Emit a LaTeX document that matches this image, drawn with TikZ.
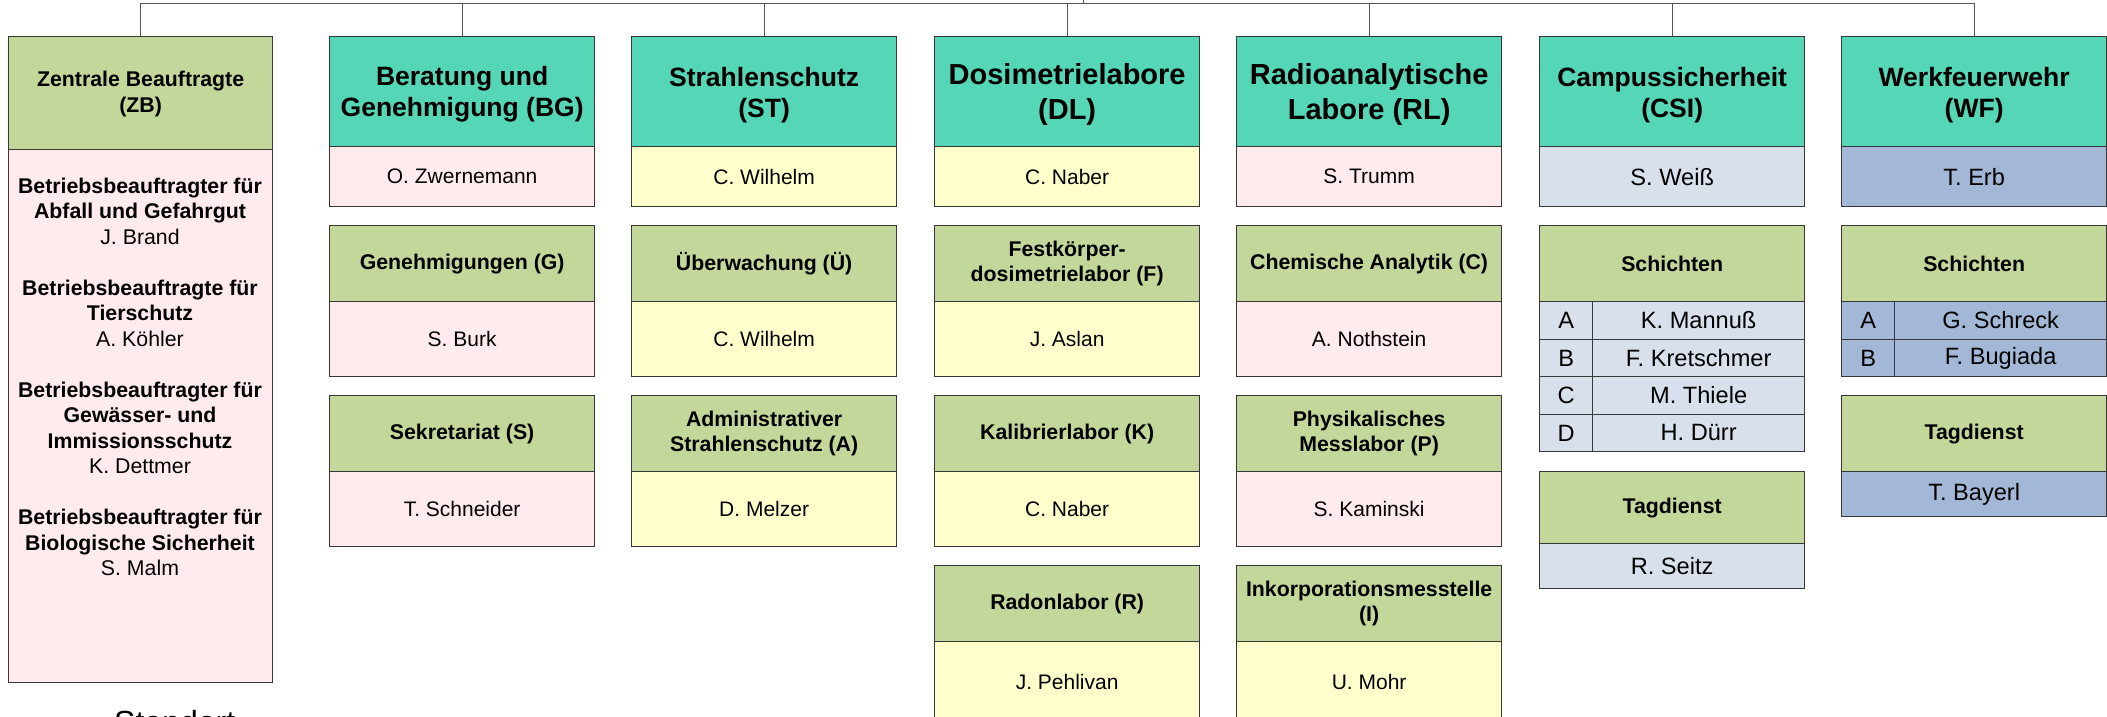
\documentclass[tikz,border=0pt]{standalone}
\usepackage{fontspec}
\setmainfont{Liberation Sans}
\definecolor{tealc}{RGB}{85,214,182}
\definecolor{greenc}{RGB}{196,215,155}
\definecolor{pinkc}{RGB}{255,235,235}
\definecolor{yellowc}{RGB}{255,255,204}
\definecolor{lbluec}{RGB}{215,224,235}
\definecolor{bluec}{RGB}{163,184,214}
\definecolor{bordc}{RGB}{55,55,55}
\definecolor{connc}{RGB}{85,85,85}
\newcommand{\headfont}{\fontsize{26.5}{31}\selectfont\bfseries}
\newcommand{\bigheadfont}{\fontsize{29}{35}\selectfont\bfseries}
\newcommand{\subfont}{\fontsize{21.3}{25.5}\selectfont\bfseries}
\newcommand{\namefont}{\fontsize{21}{25.2}\selectfont}
\newcommand{\csifont}{\fontsize{23.6}{28}\selectfont}
\newcommand{\zbfont}{\fontsize{21.3}{25.5}\selectfont}
\tikzset{
  cell/.style={draw=bordc, line width=1.3pt, inner sep=0pt, anchor=north west, align=center, minimum width=265pt},
  head/.style={cell, fill=tealc, minimum height=110pt},
  htext/.style={inner sep=0pt, align=center, font=\headfont},
  bightext/.style={htext, font=\bigheadfont},
  sub/.style={cell, fill=greenc, minimum height=76pt, font=\subfont},
  nm/.style={cell, minimum height=75pt, font=\namefont},
  top/.style={nm, minimum height=60pt},
  letter/.style={cell, minimum width=53pt, minimum height=37.5pt, font=\csifont},
  tname/.style={cell, minimum width=212pt, minimum height=37.5pt, font=\csifont},
  conn/.style={draw=connc, line width=1pt},
}
\begin{document}
\begin{tikzpicture}[x=1pt, y=-1pt]
\path[use as bounding box] (0,0) rectangle (2107,716);
\clip (0,0) rectangle (2107,716);

% Zentrale Beauftragte
\node[cell, fill=greenc, minimum width=264pt, minimum height=113pt] (zbh) at (8,36) {};
\node[inner sep=0pt, align=center, font=\subfont] (zbht) at ([yshift=-1pt]zbh.center) {Zentrale Beauftragte\\(ZB)};
\node[cell, fill=pinkc, minimum width=264pt, minimum height=533pt] (zbb) at (8,149) {};
\node[anchor=north, inner sep=0pt, align=center, font=\zbfont] (zbt) at (140,177.5)
 {\textbf{Betriebsbeauftragter für}\\\textbf{Abfall und Gefahrgut}\\J. Brand\\[25.5pt]
  \textbf{Betriebsbeauftragte für}\\\textbf{Tierschutz}\\A. Köhler\\[25.5pt]
  \textbf{Betriebsbeauftragter für}\\\textbf{Gewässer- und}\\\textbf{Immissionsschutz}\\K. Dettmer\\[25.5pt]
  \textbf{Betriebsbeauftragter für}\\\textbf{Biologische Sicherheit}\\S. Malm};

% Beratung und Genehmigung
\node[head] (bgh) at (329,36) {};
\node[htext] (bght) at ([yshift=-3pt]bgh.center) {Beratung und\\Genehmigung (BG)};
\node[top, fill=pinkc] (bgn) at (329,146) {O. Zwernemann};
\node[sub] (gh) at (329,225) {Genehmigungen (G)};
\node[nm, fill=pinkc] (gn) at (329,301) {S. Burk};
\node[sub] (sh) at (329,395) {Sekretariat (S)};
\node[nm, fill=pinkc] (sn) at (329,471) {T. Schneider};

% Strahlenschutz
\node[head] (sth) at (631,36) {};
\node[htext] (stht) at ([yshift=-3pt]sth.center) {Strahlenschutz\\(ST)};
\node[top, fill=yellowc] (stn) at (631,146) {C. Wilhelm};
\node[sub] (uh) at (631,225) {Überwachung (Ü)};
\node[nm, fill=yellowc] (un) at (631,301) {C. Wilhelm};
\node[sub] (ah) at (631,395) {Administrativer\\Strahlenschutz (A)};
\node[nm, fill=yellowc] (an) at (631,471) {D. Melzer};

% Dosimetrielabore
\node[head] (dlh) at (934,36) {};
\node[bightext] (dlht) at ([yshift=-2.5pt]dlh.center) {Dosimetrielabore\\(DL)};
\node[top, fill=yellowc] (dln) at (934,146) {C. Naber};
\node[sub] (fh) at (934,225) {Festkörper-\\dosimetrielabor (F)};
\node[nm, fill=yellowc] (fn) at (934,301) {J. Aslan};
\node[sub] (kh) at (934,395) {Kalibrierlabor (K)};
\node[nm, fill=yellowc] (kn) at (934,471) {C. Naber};
\node[sub] (rh) at (934,565) {Radonlabor (R)};
\node[nm, fill=yellowc, minimum height=85pt] (rn) at (934,641) {\raisebox{5pt}{J. Pehlivan}};

% Radioanalytische Labore
\node[head] (rlh) at (1236,36) {};
\node[bightext] (rlht) at ([yshift=-2.5pt]rlh.center) {Radioanalytische\\Labore (RL)};
\node[top, fill=pinkc] (rln) at (1236,146) {S. Trumm};
\node[sub] (ch) at (1236,225) {Chemische Analytik (C)};
\node[nm, fill=pinkc] (cn) at (1236,301) {A. Nothstein};
\node[sub] (ph) at (1236,395) {Physikalisches\\Messlabor (P)};
\node[nm, fill=pinkc] (pn) at (1236,471) {S. Kaminski};
\node[sub] (ih) at (1236,565) {Inkorporationsmesstelle\\(I)};
\node[nm, fill=yellowc, minimum height=85pt] (in) at (1236,641) {\raisebox{5pt}{U. Mohr}};

% Campussicherheit
\node[head] (csih) at (1539,36) {};
\node[htext] (csiht) at ([yshift=-3pt]csih.center) {Campussicherheit\\(CSI)};
\node[top, fill=lbluec, font=\csifont] (csin) at (1539,146) {S. Weiß};
\node[sub] (csish) at (1539,225) {Schichten};
\node[letter, fill=lbluec] (csia) at (1539,301) {A};
\node[tname, fill=lbluec] (csian) at (1592,301) {K. Mannuß};
\node[letter, fill=lbluec] (csib) at (1539,338.5) {B};
\node[tname, fill=lbluec] (csibn) at (1592,338.5) {F. Kretschmer};
\node[letter, fill=lbluec] (csic) at (1539,376) {C};
\node[tname, fill=lbluec] (csicn) at (1592,376) {M. Thiele};
\node[letter, fill=lbluec] (csid) at (1539,413.5) {D};
\node[tname, fill=lbluec] (csidn) at (1592,413.5) {H. Dürr};
\node[sub, minimum height=72pt] (csith) at (1539,471) {Tagdienst};
\node[nm, fill=lbluec, minimum height=45pt, font=\csifont] (csitn) at (1539,543) {R. Seitz};

% Werkfeuerwehr
\node[head] (wfh) at (1841,36) {};
\node[htext] (wfht) at ([yshift=-3pt]wfh.center) {Werkfeuerwehr\\(WF)};
\node[top, fill=bluec, font=\csifont] (wfn) at (1841,146) {T. Erb};
\node[sub] (wfsh) at (1841,225) {Schichten};
\node[letter, fill=bluec] (wfa) at (1841,301) {A};
\node[tname, fill=bluec] (wfan) at (1894,301) {G. Schreck};
\node[letter, fill=bluec] (wfb) at (1841,338.5) {B};
\node[tname, fill=bluec] (wfbn) at (1894,338.5) {F. Bugiada};
\node[sub] (wfth) at (1841,395) {Tagdienst};
\node[nm, fill=bluec, minimum height=45pt, font=\csifont] (wftn) at (1841,471) {T. Bayerl};

% connectors
\coordinate (bus) at (1083,3);
\coordinate (parent) at (1083,-20);
\draw[conn] (zbh.north |- bus) -- (wfh.north |- bus);
\draw[conn] (bus) -- (parent);
\foreach \n in {zbh,bgh,sth,dlh,rlh,csih,wfh}{
  \draw[conn] (\n.north) -- (\n.north |- bus);
}

\node[anchor=base west, inner sep=0pt, font=\fontsize{32}{38}\selectfont] (standort) at (114,733.6) {Standort};
\end{tikzpicture}
\end{document}
